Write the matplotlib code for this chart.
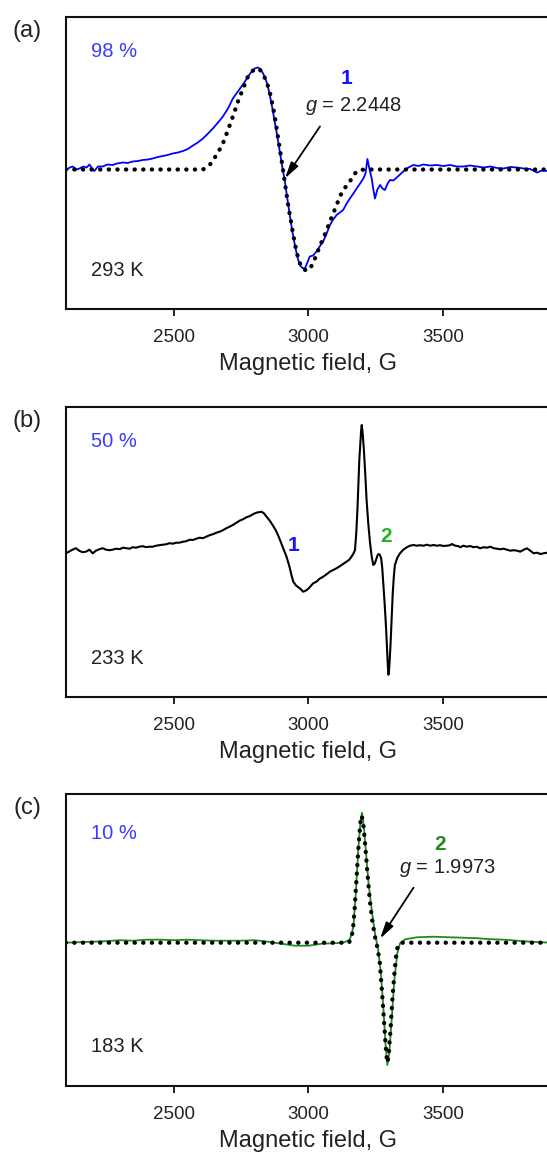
import numpy as np
import matplotlib
matplotlib.use('Agg')
import matplotlib.pyplot as plt

plt.rcParams['font.family'] = ['Liberation Sans', 'DejaVu Sans']
plt.rcParams['mathtext.fontset'] = 'custom'
plt.rcParams['mathtext.rm'] = 'Liberation Sans'
plt.rcParams['mathtext.it'] = 'Liberation Sans:italic'

# (field G, intensity a.u.)
exp_a = [(2100, -0.01), (2115, 0.02), (2126, 0.03), (2140, 0.0), (2151, 0.01), (2165, 0.03),
         (2178, 0.02), (2188, 0.05), (2198, 0.01), (2206, -0.015), (2220, 0.03), (2237, 0.03),
         (2255, 0.05), (2274, 0.045), (2290, 0.06), (2312, 0.07), (2330, 0.065), (2349, 0.08),
         (2368, 0.085), (2386, 0.095), (2405, 0.10), (2423, 0.11), (2442, 0.125), (2460, 0.135),
         (2478, 0.145), (2497, 0.16), (2516, 0.17), (2535, 0.185), (2553, 0.205), (2572, 0.24),
         (2590, 0.27), (2609, 0.31), (2628, 0.36), (2646, 0.41), (2665, 0.47), (2683, 0.53),
         (2702, 0.61), (2720, 0.71), (2736, 0.77), (2752, 0.83), (2765, 0.88), (2776, 0.93),
         (2790, 0.98), (2801, 1.01), (2812, 1.02), (2820, 1.01), (2830, 0.97), (2838, 0.93),
         (2848, 0.85), (2857, 0.745), (2866, 0.62), (2875, 0.48), (2885, 0.33), (2894, 0.18),
         (2903, 0.03), (2913, -0.12), (2922, -0.29), (2931, -0.455), (2940, -0.61), (2950, -0.755),
         (2959, -0.87), (2968, -0.955), (2978, -0.985), (2987, -0.99), (2995, -0.94), (3005, -0.87),
         (3018, -0.86), (3030, -0.82), (3042, -0.77), (3055, -0.72), (3068, -0.64), (3080, -0.555),
         (3092, -0.5), (3105, -0.455), (3117, -0.43), (3129, -0.405), (3142, -0.34), (3154, -0.29),
         (3167, -0.24), (3179, -0.19), (3192, -0.14), (3204, -0.09), (3212, -0.04), (3219, 0.105),
         (3227, 0.0), (3235, -0.09), (3241, -0.2), (3247, -0.29), (3256, -0.2), (3266, -0.155),
         (3275, -0.19), (3284, -0.205), (3294, -0.14), (3303, -0.105), (3315, -0.11), (3328, -0.08),
         (3340, -0.05), (3352, -0.02), (3371, 0.02), (3390, 0.045), (3408, 0.035), (3427, 0.05),
         (3451, 0.04), (3476, 0.045), (3501, 0.035), (3526, 0.045), (3550, 0.03), (3575, 0.03),
         (3600, 0.04), (3625, 0.03), (3650, 0.02), (3675, 0.03), (3700, 0.015), (3724, 0.01),
         (3749, 0.025), (3774, 0.02), (3799, 0.01), (3823, 0.005), (3848, -0.03), (3866, -0.01),
         (3885, -0.015), (3900, -0.01)]

fit_a = [(2100, 0.0), (2609, 0.0), (2622, 0.02), (2634, 0.045), (2646, 0.09), (2659, 0.145),
         (2671, 0.2), (2683, 0.26), (2702, 0.395), (2720, 0.53), (2739, 0.68), (2758, 0.81),
         (2776, 0.93), (2790, 0.98), (2801, 1.0), (2812, 1.01), (2820, 1.0), (2832, 0.95),
         (2845, 0.88), (2858, 0.76), (2870, 0.61), (2879, 0.47), (2888, 0.31), (2898, 0.14),
         (2907, -0.02), (2916, -0.19), (2925, -0.355), (2935, -0.51), (2944, -0.655), (2953, -0.78),
         (2962, -0.885), (2972, -0.96), (2981, -0.995), (2993, -1.01), (3005, -1.0), (3018, -0.93),
         (3030, -0.855), (3042, -0.77), (3055, -0.69), (3068, -0.605), (3080, -0.52), (3092, -0.44),
         (3105, -0.355), (3117, -0.27), (3129, -0.21), (3142, -0.16), (3154, -0.12), (3167, -0.06),
         (3179, -0.02), (3192, -0.005), (3210, 0.0), (3900, 0.0)]

exp_b = [(2100, -0.016), (2112, 0.0), (2125, 0.02), (2138, 0.035), (2150, 0.01), (2162, -0.005),
         (2175, 0.0), (2188, 0.02), (2200, -0.016), (2212, 0.01), (2225, 0.025), (2237, 0.035),
         (2250, 0.02), (2262, 0.015), (2274, 0.02), (2287, 0.03), (2300, 0.025), (2312, 0.04),
         (2324, 0.035), (2337, 0.03), (2349, 0.045), (2361, 0.04), (2373, 0.05), (2386, 0.055),
         (2398, 0.045), (2410, 0.05), (2423, 0.05), (2435, 0.06), (2447, 0.065), (2460, 0.07),
         (2472, 0.074), (2485, 0.085), (2497, 0.08), (2510, 0.09), (2522, 0.09), (2535, 0.1),
         (2547, 0.105), (2560, 0.12), (2572, 0.117), (2584, 0.13), (2597, 0.14), (2609, 0.135),
         (2621, 0.15), (2634, 0.165), (2646, 0.175), (2659, 0.19), (2671, 0.2), (2683, 0.215),
         (2696, 0.235), (2708, 0.25), (2720, 0.267), (2733, 0.29), (2745, 0.31), (2758, 0.325),
         (2770, 0.344), (2782, 0.355), (2795, 0.375), (2807, 0.39), (2817, 0.395), (2826, 0.4),
         (2835, 0.385), (2845, 0.35), (2857, 0.31), (2869, 0.26), (2880, 0.21), (2890, 0.15),
         (2900, 0.08), (2910, 0.01), (2919, -0.05), (2930, -0.15), (2937, -0.23), (2944, -0.3),
         (2955, -0.34), (2968, -0.366), (2981, -0.4), (2990, -0.39), (3000, -0.37), (3010, -0.34),
         (3018, -0.316), (3030, -0.3), (3042, -0.27), (3055, -0.25), (3068, -0.225), (3080, -0.2),
         (3092, -0.183), (3105, -0.165), (3117, -0.145), (3129, -0.123), (3142, -0.1), (3152, -0.08),
         (3160, -0.05), (3167, -0.02), (3173, 0.017), (3178, 0.2), (3182, 0.417), (3186, 0.7),
         (3189, 0.917), (3193, 1.1), (3196, 1.22), (3198, 1.267), (3201, 1.2), (3206, 1.017),
         (3211, 0.78), (3216, 0.517), (3222, 0.29), (3229, 0.084), (3235, -0.05), (3241, -0.133),
         (3246, -0.12), (3251, -0.083), (3256, -0.04), (3260, -0.023), (3265, -0.03), (3270, -0.066),
         (3274, -0.16), (3278, -0.316), (3283, -0.52), (3288, -0.75), (3292, -0.98), (3295, -1.15),
         (3297, -1.23), (3299, -1.2), (3302, -1.07), (3305, -0.917), (3309, -0.67), (3313, -0.417),
         (3317, -0.25), (3321, -0.133), (3330, -0.06), (3340, -0.016), (3352, 0.02), (3365, 0.044),
         (3377, 0.06), (3390, 0.067), (3402, 0.06), (3415, 0.065), (3427, 0.06), (3440, 0.07),
         (3452, 0.06), (3464, 0.067), (3476, 0.06), (3489, 0.065), (3501, 0.057), (3514, 0.06),
         (3526, 0.065), (3532, 0.077), (3545, 0.06), (3557, 0.055), (3563, 0.044), (3575, 0.06),
         (3588, 0.05), (3600, 0.057), (3612, 0.045), (3625, 0.05), (3637, 0.034), (3650, 0.045),
         (3662, 0.04), (3675, 0.05), (3687, 0.035), (3700, 0.03), (3712, 0.024), (3724, 0.03),
         (3737, 0.02), (3749, 0.01), (3761, 0.015), (3774, 0.01), (3786, 0.0), (3799, 0.02),
         (3811, 0.034), (3823, 0.01), (3836, -0.016), (3848, -0.01), (3861, -0.023), (3874, -0.015),
         (3886, -0.01), (3900, -0.005)]

exp_c = [(2100, 0.0), (2150, 0.005), (2200, 0.01), (2250, 0.015), (2300, 0.025), (2350, 0.02),
         (2400, 0.03), (2450, 0.03), (2500, 0.025), (2550, 0.03), (2600, 0.025), (2650, 0.02),
         (2700, 0.02), (2750, 0.02), (2800, 0.025), (2850, 0.01), (2900, -0.01), (2950, -0.03),
         (3000, -0.03), (3050, -0.01), (3100, -0.005), (3129, 0.0), (3152, 0.027), (3160, 0.08),
         (3167, 0.16), (3176, 0.494), (3185, 0.927), (3194, 1.227), (3199, 1.3), (3206, 1.16),
         (3214, 0.894), (3222, 0.627), (3235, 0.327), (3247, 0.094), (3259, -0.073), (3269, -0.306),
         (3278, -0.64), (3286, -1.006), (3293, -1.223), (3300, -1.106), (3309, -0.773), (3319, -0.373),
         (3330, -0.106), (3340, -0.006), (3359, 0.034), (3402, 0.054), (3464, 0.06), (3526, 0.054),
         (3575, 0.05), (3625, 0.045), (3675, 0.035), (3725, 0.03), (3775, 0.02), (3825, 0.01),
         (3860, 0.005), (3900, 0.0)]

fit_c = [(2100, 0.0), (3150, 0.0), (3158, 0.03), (3165, 0.12), (3172, 0.35), (3180, 0.7),
         (3187, 1.0), (3193, 1.2), (3198, 1.27), (3204, 1.18), (3211, 0.97), (3219, 0.7),
         (3228, 0.42), (3238, 0.2), (3248, 0.05), (3257, -0.06), (3265, -0.2), (3272, -0.45),
         (3279, -0.72), (3286, -1.0), (3292, -1.2), (3297, -1.15), (3304, -0.9), (3312, -0.55),
         (3320, -0.28), (3328, -0.07), (3336, -0.01), (3346, 0.0), (3900, 0.0)]

ticks = [2500, 3000, 3500]
panel_names = ['(a)', '(b)', '(c)']
fractions = ['98 %', '50 %', '10 %']
temps = ['293 K', '233 K', '183 K']

W, H = 547, 1155
fig = plt.figure(figsize=(W / 100, H / 100), dpi=100)

BLUE = '#1414ff'
LBLUE = '#3c3cff'
GREEN_B = '#22b322'
GREEN_C = '#1e8a1e'
TXT = '#222222'

# axes boxes in pixels: (top, bottom)
boxes = [(17.3, 309), (406.7, 696.7), (794.3, 1086)]
ylims = [(-1.395, 1.522), (-1.45, 1.45), (-1.433, 1.484)]
label_y = [(0.883, 0.132), (0.88, 0.132), (0.866, 0.135)]
left_px, right_px = 65.7, 551

axs = []
for i, (top, bot) in enumerate(boxes):
    ax = fig.add_axes([left_px / W, 1 - bot / H, (right_px - left_px) / W, (bot - top) / H])
    ax.set_xlim(2100, 3900)
    ax.set_ylim(*ylims[i])
    ax.set_yticks([])
    ax.set_xticks(ticks)
    ax.tick_params(axis='x', direction='out', length=5, width=1.4, labelsize=13.5, pad=9.5,
                   colors=TXT)
    for s in ax.spines.values():
        s.set_linewidth(1.5)
        s.set_color('#111111')
    ax.set_xlabel('Magnetic field, G', fontsize=17, labelpad=5, color=TXT)
    ax.text(0.052, label_y[i][0], fractions[i], transform=ax.transAxes, color=LBLUE,
            fontsize=14.5, va='center', ha='left')
    ax.text(0.052, label_y[i][1], temps[i], transform=ax.transAxes, color=TXT,
            fontsize=14.5, va='center', ha='left')
    fig.text(27.5 / W, 1 - (top + 14) / H, panel_names[i], fontsize=17, ha='center', va='center',
             color=TXT)
    axs.append(ax)

dots = dict(color='black', lw=3.1, linestyle=(0, (0.05, 1.95)), dash_capstyle='round')
arrow = dict(arrowstyle='-|>,head_width=0.18,head_length=0.7', lw=1.3, color='black',
             shrinkA=0, shrinkB=0, mutation_scale=14)

# (a)
ax = axs[0]
x, y = np.array(exp_a).T
ax.plot(x, y, color='#0000ff', lw=1.3)
x, y = np.array(fit_a).T
ax.plot(x, y, **dots)
ax.text(3143, 0.915, '1', color=BLUE, fontsize=15, fontweight='bold', ha='center', va='center')
ax.text(3169, 0.635, '$g$ = 2.2448', color=TXT, fontsize=14.5, ha='center', va='center')
ax.annotate('', xy=(2913, -0.09), xytext=(3043, 0.43), arrowprops=arrow)

# (b)
ax = axs[1]
x, y = np.array(exp_b).T
ax.plot(x, y, color='black', lw=1.5)
ax.text(2946, 0.06, '1', color=BLUE, fontsize=15, fontweight='bold', ha='center', va='center')
ax.text(3290, 0.15, '2', color=GREEN_B, fontsize=15, fontweight='bold', ha='center', va='center')

# (c)
ax = axs[2]
x, y = np.array(exp_c).T
ax.plot(x, y, color=GREEN_C, lw=1.3)
x, y = np.array(fit_c).T
ax.plot(x, y, **dots)
ax.text(3487, 0.977, '2', color=GREEN_C, fontsize=15, fontweight='bold', ha='center', va='center')
ax.text(3517, 0.744, '$g$ = 1.9973', color=TXT, fontsize=14.5, ha='center', va='center')
ax.annotate('', xy=(3266, 0.04), xytext=(3390, 0.55), arrowprops=arrow)

fig.savefig('out.png', dpi=100)
